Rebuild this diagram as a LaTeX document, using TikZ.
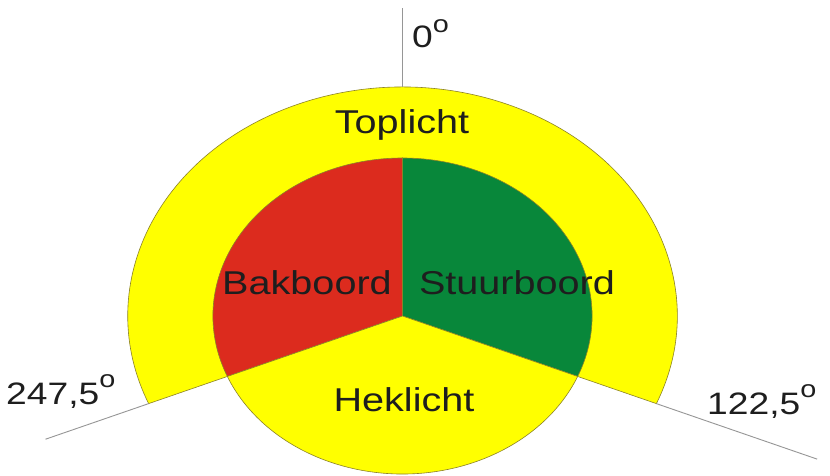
\documentclass[tikz,border=0pt]{standalone}
\usepackage{fontspec}
\setmainfont{Liberation Sans}
\begin{document}
\begin{tikzpicture}[x=1pt,y=1pt]
\definecolor{yel}{RGB}{255,255,0}
\definecolor{bbred}{RGB}{220,43,30}
\definecolor{sbgreen}{RGB}{8,135,58}
\definecolor{edge}{RGB}{140,130,40}
\definecolor{guidegrey}{RGB}{150,150,150}
\definecolor{txt}{RGB}{30,30,30}
\tikzset{
  sector/.style={draw=edge, line width=0.6pt},
  guide/.style={draw=guidegrey, line width=0.9pt},
  lbl/.style={font=\fontsize{33}{36}\selectfont, text=txt, inner sep=0pt, xscale=1.2, anchor=base},
  deg/.style={font=\fontsize{31}{34}\selectfont, text=txt, inner sep=0pt, xscale=1.2, anchor=base west}
}
\useasboundingbox (0,0) rectangle (830,476);
\fill[white] (0,0) rectangle (830,476);
\begin{scope}[shift={(402.5,160)}, xscale=1.2]
  \filldraw[sector, fill=yel] (0,0) -- (-22.5:229) arc[start angle=-22.5, end angle=202.5, radius=229] -- cycle;
  \filldraw[sector, fill=bbred] (0,0) -- (90:158) arc[start angle=90, end angle=202.5, radius=158] -- cycle;
  \filldraw[sector, fill=sbgreen] (0,0) -- (-22.5:158) arc[start angle=-22.5, end angle=90, radius=158] -- cycle;
  \filldraw[sector, fill=yel] (0,0) -- (202.5:158) arc[start angle=202.5, end angle=337.5, radius=158] -- cycle;
  \coordinate (topA) at (90:229);
  \coordinate (topB) at (90:308);
  \coordinate (leftA) at (202.5:229);
  \coordinate (leftB) at (202.5:322);
  \coordinate (rightA) at (-22.5:229);
  \coordinate (rightB) at (-22.5:374);
\end{scope}
\draw[guide] (topA) -- (topB);
\draw[guide] (leftA) -- (leftB);
\draw[guide] (rightA) -- (rightB);
\node[lbl] (toplicht) at (402,342) {Toplicht};
\node[lbl] (heklicht) at (404,64) {Heklicht};
\node[lbl] (bakboord) at (307,181) {Bakboord};
\node[lbl] (stuurboord) at (517,181) {Stuurboord};
\node[deg] (d0) at (412,428) {0\raisebox{15pt}{\fontsize{24}{24}\selectfont o}};
\node[deg] (d247) at (6,71) {247,5\raisebox{17pt}{\fontsize{24}{24}\selectfont o}};
\node[deg] (d122) at (707,61) {122,5\raisebox{17pt}{\fontsize{24}{24}\selectfont o}};
\end{tikzpicture}
\end{document}
